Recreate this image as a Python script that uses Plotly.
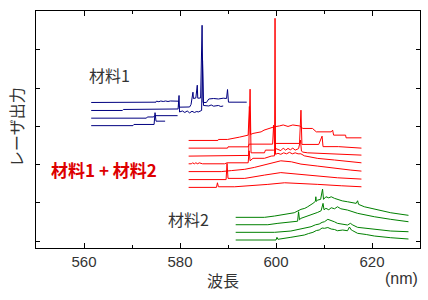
import plotly.graph_objects as go

# ---------------- data (wavelength nm, intensity a.u. above each trace's own baseline) -------------
# 材料1 (blue), bottom -> top
b_offsets = [115.5, 123.0, 130.7, 138.7]
b4_x = [561.5, 570.2, 570.4, 574.6, 574.8, 575.0, 576.9]
b4_y = [0, 0, 1.2, 1.2, 13, 4.5, 4.5]
b3_x = [561.5, 573.0, 573.2, 574.5, 574.7, 579.5]
b3_y = [0, 0, 1.2, 1.2, 2.5, 2.5]
b2_x = [561.5, 568.0, 568.2, 574.0, 574.2, 579.6, 579.8, 579.9, 580.5, 581.0, 581.5, 582.0, 582.5,
        583.0, 583.5, 583.8, 584.5, 584.7, 584.9, 586.0, 586.5, 587.0, 588.0, 588.5, 589.0]
b2_y = [0, 0, 1.0, 1.0, 1.5, 1.5, 15, -1.5, -0.5, -2, -0.5, -2.4, -0.8,
        -2, -1, -1.5, 0, 50, 5, 4.5, 5.5, 4.3, 5, 4, 4.5]
b1_x = [561.5, 575.0, 575.1, 575.6, 576.0, 576.5, 577.0, 577.5, 578.0, 578.6, 579.7, 579.8, 580.0,
        581.0, 582.0, 582.3, 582.5, 582.7, 582.8, 583.3, 583.6, 583.7, 584.3, 584.6, 584.8, 585.5,
        586.0, 587.0, 588.0, 589.0, 589.7, 589.9, 590.1, 593.9]
b1_y = [0, 0.3, 1.3, 0.8, 1.5, 1.0, 1.5, 1.0, 1.5, 1.3, 1.3, -4.7, -4.7,
        -4.5, -4.5, -2, 3.5, 10.3, 4, 4.5, 17.3, 4.3, 4.5, 77.3, 0, 0,
        3.5, 4, 3.5, 4.3, 4, 13, 0.3, 0.3]

# 材料1 + 材料2 (red), bottom -> top
r_offsets = [53.7, 61.5, 69.5, 77.3, 85.0, 93.0, 100.7]
r7_x = [581.8, 587.6, 587.8, 588.0, 591.4, 594.9, 598.3, 601.8, 605.2, 608.7, 613.6, 617.8]
r7_y = [0, 0, 4.6, 0.6, 0.6, 1.6, 3.0, 4.6, 4.0, 3.0, 1.6, 0.6]
r6_x = [581.8, 589.6, 589.8, 590.0, 593.5, 595.5, 597.6, 601.0, 605.2, 608.7, 612.8, 617.8]
r6_y = [0, 0, 16.2, 1.2, 1.2, 3.0, 4.5, 7.0, 5.2, 3.5, 1.8, 0.5]
r5_x = [581.8, 588.6, 590.7, 593.5, 595.5, 597.6, 599.7, 601.0, 603.2, 605.2, 608.7, 612.2, 615.6, 617.8]
r5_y = [0, 0, 1.0, 2.3, 4.2, 6.5, 8.8, 10.8, 9.8, 7.5, 5.5, 3.2, 1.5, 0.5]
r4_x = [581.8, 582.4, 582.6, 583.0, 583.3, 583.7, 584.0, 584.5, 584.7, 589.3, 589.8, 594.2, 594.4,
        594.6, 595.2, 597.6, 599.0, 599.7, 599.8, 599.9, 600.4, 601.0, 601.6, 602.2, 602.8, 603.4,
        604.0, 604.6, 605.2, 605.9, 608.7, 612.2, 615.6, 617.8]
r4_y = [0, 0, 1, 0, 1, 0, 1, 0, 0, 0, 1, 1, 13,
        3, 5.5, 5.5, 7.7, 8, 145.7, 9.5, 10.5, 9.5, 11, 10, 11.5, 10,
        11, 10, 10, 8, 5.4, 3.8, 2, 1]
r3_x = [581.8, 590.7, 590.9, 594.3, 594.6, 594.8, 595.2, 597.6, 597.8, 599.5, 600.0, 600.4, 601.0,
        601.5, 602.0, 602.5, 603.0, 603.5, 604.0, 604.7, 605.1, 605.3, 605.6, 606.6, 610.1, 617.8]
r3_y = [0, 0, 0.7, 0.7, 67, 3.3, 3.3, 3.3, 6, 6, 7.5, 7, 5.5,
        8, 6, 7.7, 6.3, 8, 6, 7.5, 16, 5, 4, 3.3, 2.7, 1]
r2_x = [581.8, 589.9, 590.0, 594.2, 594.4, 599.3, 599.5, 599.7, 604.9, 605.2, 605.4, 608.9, 609.6,
        609.8, 613.0, 617.8]
r2_y = [0, 0, 1.3, 1.3, 4, 4, 23, 4.7, 4.7, 38, 3.7, 3.7, 12,
        1.5, 1.5, 0]
r1_x = [581.8, 587.9, 588.0, 589.9, 592.4, 594.2, 594.45, 594.7, 595.2, 596.9, 597.5, 599.3, 599.6,
        600.7, 601.5, 602.5, 603.5, 604.9, 605.6, 607.6, 608.4, 611.5, 611.8, 612.0, 614.5, 614.6, 617.8]
r1_y = [0, 0, 1, 1, 3.3, 5.3, 34, 6, 7, 8.6, 10.3, 13.6, 13.6,
        14.5, 15.5, 14, 15.5, 14.5, 12, 12, 8.6, 8.6, 10.3, 5.3, 5.3, 2.6, 2.6]

# 材料2 (green), bottom -> top
g_offsets = [1.0, 8.7, 16.3, 23.7]
g4_x = [591.6, 600.0, 600.2, 600.4, 603.1, 604.5, 605.9, 606.8, 607.7, 608.4, 609.0, 609.6, 610.1,
        610.8, 611.5, 612.2, 612.8, 613.9, 614.9, 615.3, 615.7, 616.0, 617.0, 618.8, 620.5, 623.9, 627.6]
g4_y = [0, 0, 2.7, 0.7, 2.7, 3.5, 5, 6.5, 7.7, 9.5, 10, 12, 11.7,
        12.5, 11, 10.5, 9.3, 10, 9.3, 13, 10, 9.3, 6.7, 5.5, 4, 2.3, 1]
g3_x = [591.6, 599.7, 603.1, 604.3, 605.2, 606.3, 607.3, 608.2, 609.0, 609.6, 610.1, 610.8, 611.5,
        612.2, 612.8, 613.8, 614.9, 615.5, 616.0, 617.0, 618.6, 620.5, 623.9, 627.6]
g3_y = [0, 0, 1.3, 2.5, 3, 4.5, 5.6, 7.5, 8.3, 10, 10.6, 13, 12,
        10.5, 9, 8.5, 7.3, 9, 7.3, 5, 4, 3, 1.3, 0.6]
g2_x = [591.6, 598.3, 600.4, 603.1, 604.5, 604.7, 604.9, 605.2, 606.2, 607.3, 608.0, 608.7, 609.4,
        609.8, 610.0, 610.4, 611.0, 611.5, 612.2, 612.8, 613.5, 614.2, 614.9, 617.0, 618.8, 620.5,
        623.9, 627.6]
g2_y = [0, 0, 1.4, 3, 3.5, 13, 5, 6.4, 8, 9.7, 11, 12.4, 14,
        21.4, 15, 16.4, 15, 17, 16, 18, 16, 15.5, 14.7, 11.4, 9.5, 8,
        5.4, 3]
g1_x = [591.6, 597.6, 599.7, 601.8, 603.8, 605.2, 606.0, 606.6, 607.2, 607.7, 608.2, 608.3, 608.4,
        608.7, 609.3, 609.7, 609.9, 610.4, 611.0, 611.5, 612.2, 612.8, 613.8, 614.9, 616.7, 617.0,
        617.2, 618.4, 619.8, 621.2, 623.9, 627.6]
g1_y = [0, 0, 1.3, 3, 4.6, 8, 9, 10.6, 12, 14, 16, 20.6, 16,
        17.3, 18, 28.3, 18, 20.6, 19.5, 20.6, 19, 18, 16.5, 15.6, 14, 16.6,
        13, 10.6, 9, 7.3, 4.6, 2]

x_ticks = [560, 580, 600, 620]

groups = [
    ("#000080", b_offsets, [(b4_x, b4_y), (b3_x, b3_y), (b2_x, b2_y), (b1_x, b1_y)]),
    ("#ff0000", r_offsets, [(r7_x, r7_y), (r6_x, r6_y), (r5_x, r5_y), (r4_x, r4_y),
                            (r3_x, r3_y), (r2_x, r2_y), (r1_x, r1_y)]),
    ("#008000", g_offsets, [(g4_x, g4_y), (g3_x, g3_y), (g2_x, g2_y), (g1_x, g1_y)]),
]

fig = go.Figure()
for color, offs, traces in groups:
    for off, (xs, ys) in zip(offs, traces):
        fig.add_trace(go.Scatter(x=xs, y=[v + off for v in ys], mode="lines",
                                 line=dict(color=color, width=1), showlegend=False,
                                 hoverinfo="skip"))

FONT = "Liberation Sans, Arial, Noto Sans CJK JP, sans-serif"
JFONT = "Noto Sans CJK JP, Liberation Sans, sans-serif"
TXT = "#333333"

fig.update_layout(
    width=428, height=300,
    margin=dict(l=36, r=8, t=11, b=52),
    paper_bgcolor="white", plot_bgcolor="white",
    font=dict(family=FONT, size=15, color=TXT),
    xaxis=dict(range=[550, 630], tickvals=x_ticks, ticks="inside", ticklen=5, tickwidth=1,
               tickcolor="black", showline=True, linecolor="black", linewidth=1.3,
               mirror="allticks", showgrid=False, zeroline=False,
               tickfont=dict(family=FONT, size=15, color=TXT),
               minor=dict(dtick=10, tick0=550, ticks="inside", ticklen=3, tickcolor="black")),
    yaxis=dict(range=[-7, 230.3], tick0=0, dtick=38.3, ticks="inside", ticklen=4, tickwidth=1,
               tickcolor="black", showline=True, linecolor="black", linewidth=1.3,
               mirror="allticks", showgrid=False, zeroline=False, showticklabels=False),
)

ann_data = [
    dict(x=565.4, y=166, text="材料1", font=dict(family=JFONT, size=16, color=TXT)),
    dict(x=564.1, y=72, text="<b>材料1 + 材料2</b>", font=dict(family=JFONT, size=17, color="#dd0000")),
    dict(x=581.7, y=22, text="材料2", font=dict(family=JFONT, size=16, color=TXT)),
]
for a in ann_data:
    fig.add_annotation(xref="x", yref="y", showarrow=False, xanchor="center", yanchor="middle", **a)

ann_paper = [
    dict(x=0.4878, y=-0.135, text="波長", font=dict(family=JFONT, size=16, color=TXT)),
    dict(x=0.9523, y=-0.1287, text="(nm)", font=dict(family=FONT, size=16, color=TXT)),
    dict(x=-0.052, y=0.5105, text="レーザ出力", textangle=-90, font=dict(family=JFONT, size=16, color=TXT)),
]
for a in ann_paper:
    fig.add_annotation(xref="paper", yref="paper", showarrow=False, xanchor="center", yanchor="middle", **a)

fig.write_html("out.html")
